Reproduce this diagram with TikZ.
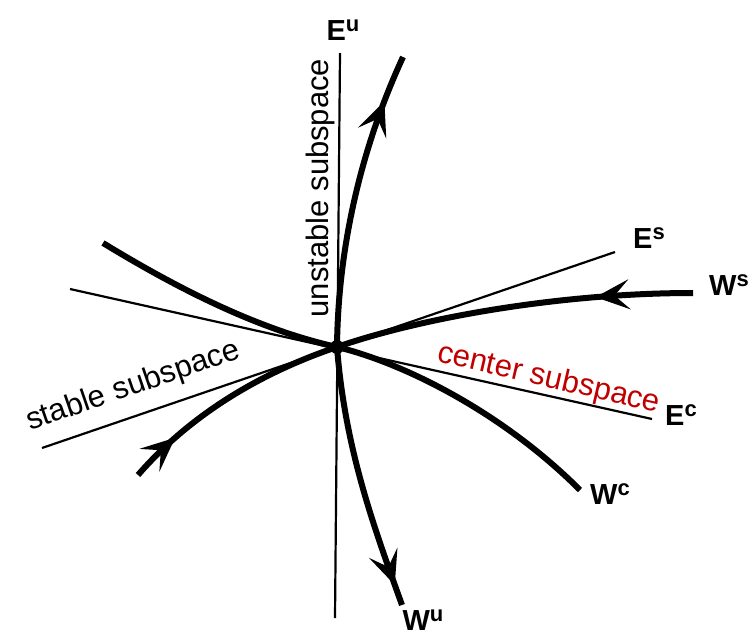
\documentclass[tikz,border=0pt]{standalone}
\usepackage{fontspec}
\setmainfont{Liberation Sans}
\usetikzlibrary{arrows.meta,decorations.markings}
\definecolor{subred}{RGB}{192,0,0}
\tikzset{
  subspace/.style={line width=2.2pt},
  manifold/.style={line width=6pt},
  barb/.tip={Stealth[length=34pt,width=30pt,inset=15pt]},
  flow/.style={postaction={decorate,decoration={markings,
      mark=at position #1 with {\arrow{barb}}}}},
  lbl/.style={font=\fontsize{29}{30}\selectfont\bfseries,inner sep=0pt},
  sublbl/.style={font=\fontsize{31}{34}\selectfont,inner sep=0pt,anchor=base}
}
\newcommand{\upr}[1]{\raisebox{9pt}{\fontsize{22}{22}\selectfont #1}}
\begin{document}
\begin{tikzpicture}[x=1pt,y=-1pt]
    \useasboundingbox (0,0) rectangle (756,635);
    % fixed point
    \coordinate (O) at (337,347);
    % subspace ends
    \coordinate (Eutop) at (340,53);\coordinate (Eubot) at (335,618);
    \coordinate (Esleft) at (42,448);\coordinate (Esright) at (615,252);
    \coordinate (Ecleft) at (70,289);\coordinate (Ecright) at (652,419);
    % manifold ends
    \coordinate (Wutop) at (403,57);\coordinate (Wubot) at (402,605);
    \coordinate (Wsleft) at (138,475);\coordinate (Wsright) at (693,293);
    \coordinate (Wcleft) at (103,243);\coordinate (Wcright) at (580,490);

    % subspaces
    \draw[subspace] (Eutop) -- (Eubot);
    \draw[subspace] (Esleft) -- (Esright);
    \draw[subspace] (Ecleft) -- (Ecright);

    % unstable manifold
    \draw[manifold,flow=0.84] (O) .. controls (338,250) and (360,150) .. (Wutop);
    \draw[manifold,flow=0.92] (O) .. controls (345,450) and (375,530) .. (Wubot);
    % stable manifold
    \draw[manifold,flow=0.27] (Wsright) .. controls (560,293) and (420,318) .. (O);
    \draw[manifold,flow=0.22] (Wsleft) .. controls (190,415) and (260,373) .. (O);
    % center manifold
    \draw[manifold] (Wcleft) .. controls (180,290) and (260,330) .. (O)
        .. controls (400,362) and (500,410) .. (Wcright);
    \fill (O) circle (7);

    % labels
    \node[lbl] (Eu) at (343,30) {E\upr{u}};
    \node[lbl] (Es) at (649,238) {E\upr{s}};
    \node[lbl] (Ws) at (729,285) {W\upr{s}};
    \node[lbl] (Ec) at (681,415) {E\upr{c}};
    \node[lbl] (Wc) at (610,494) {W\upr{c}};
    \node[lbl] (Wu) at (423,620) {W\upr{u}};
    \node[sublbl,rotate=90] (unst) at (328,188) {unstable subspace};
    \node[sublbl,rotate=19] (stab) at (136,394) {stable subspace};
    \node[sublbl,rotate=-13,text=subred] (cent) at (547,387) {center subspace};
\end{tikzpicture}
\end{document}
